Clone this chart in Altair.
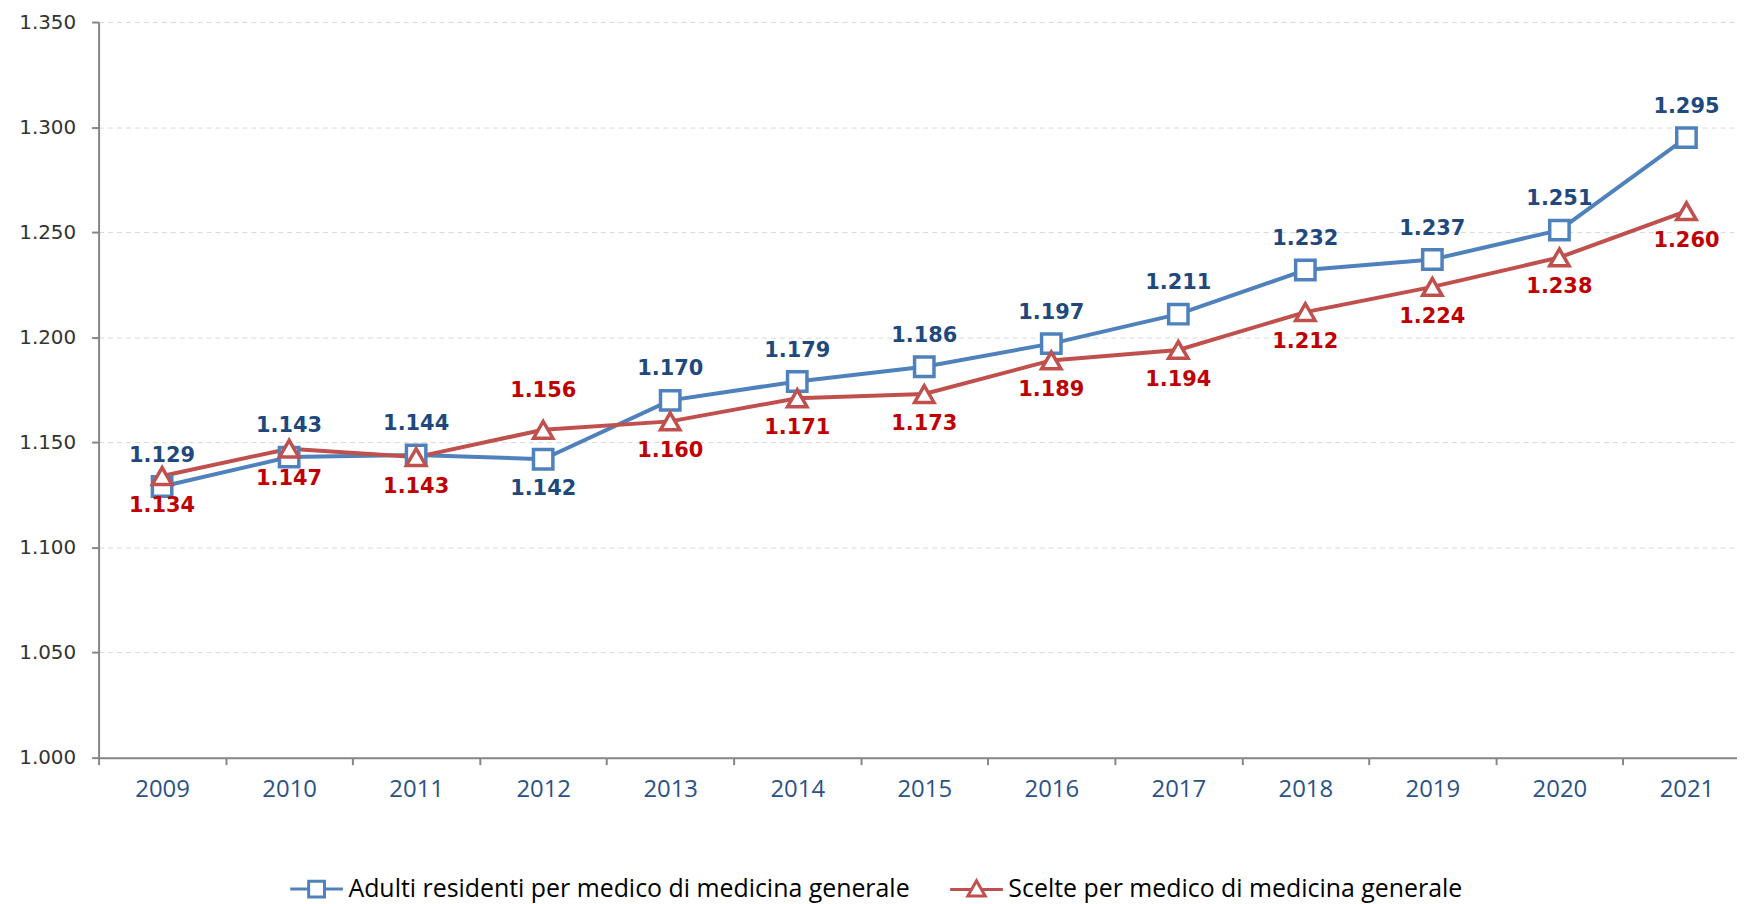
import altair as alt
import pandas as pd

# ---- data ----
anni = ["2009", "2010", "2011", "2012", "2013", "2014", "2015",
        "2016", "2017", "2018", "2019", "2020", "2021"]
adulti = [1129, 1143, 1144, 1142, 1170, 1179, 1186, 1197, 1211, 1232, 1237, 1251, 1295]
scelte = [1134, 1147, 1143, 1156, 1160, 1171, 1173, 1189, 1194, 1212, 1224, 1238, 1260]
y_ticks = [1000, 1050, 1100, 1150, 1200, 1250, 1300, 1350]
serie_nomi = ["Adulti residenti per medico di medicina generale",
              "Scelte per medico di medicina generale"]
adulti_label_sotto = ["2012"]   # years where the blue label sits below the marker
scelte_label_sopra = ["2012"]   # years where the red label sits above the marker

df = pd.DataFrame({
    "anno": anni + anni,
    "valore": adulti + scelte,
    "serie": [serie_nomi[0]] * len(anni) + [serie_nomi[1]] * len(anni),
})

BLUE = "#4F81BD"
RED = "#C0504D"
BLUE_TXT = "#1F497D"
RED_TXT = "#C00000"
AXIS_GREY = "#868686"
fmt_it = "replace(format(datum.valore, ','), ',', '.')"

x_enc = alt.X(
    "anno:O",
    title=None,
    scale=alt.Scale(type="band", range=[0, 1659], paddingInner=0, paddingOuter=0),
    axis=alt.Axis(
        labelAngle=0, labelFont="Open Sans", labelFontSize=24, labelColor="#2A5285",
        labelPadding=13, tickBand="extent", tickSize=7, tickWidth=2, tickColor=AXIS_GREY,
        domainColor=AXIS_GREY, domainWidth=2, grid=False,
    ),
)
y_enc = alt.Y(
    "valore:Q",
    title=None,
    scale=alt.Scale(domain=[1000, 1350], zero=False, nice=False),
    axis=alt.Axis(
        values=y_ticks, labelExpr="replace(format(datum.value, ','), ',', '.')",
        labelFont="DejaVu Sans", labelFontSize=20, labelColor="#333333", labelPadding=16,
        tickSize=7, tickWidth=2, tickColor=AXIS_GREY, domainColor=AXIS_GREY, domainWidth=2,
        grid=True, gridDash=[5, 4], gridColor="#d9d9d9", gridWidth=1,
    ),
)

base = alt.Chart(df).encode(x=x_enc, y=y_enc)

f_adulti = alt.datum.serie == serie_nomi[0]
f_scelte = alt.datum.serie == serie_nomi[1]

line_a = base.transform_filter(f_adulti).mark_line(color=BLUE, strokeWidth=4)
pts_a = base.transform_filter(f_adulti).mark_point(
    shape="square", size=380, fill="white", stroke=BLUE, strokeWidth=3.5, opacity=1, filled=True)
line_s = base.transform_filter(f_scelte).mark_line(color=RED, strokeWidth=4)
pts_s = base.transform_filter(f_scelte).mark_point(
    shape="triangle-up", size=380, fill="white", stroke=RED, strokeWidth=3.5, opacity=1, filled=True)

txt_kw = dict(font="DejaVu Sans", fontWeight="bold", fontSize=21, baseline="middle", align="center")

lab_a_up = base.transform_filter(f_adulti).transform_filter(
    ~alt.FieldOneOfPredicate(field="anno", oneOf=adulti_label_sotto)
).transform_calculate(lab=fmt_it).mark_text(color=BLUE_TXT, dy=-31, **txt_kw).encode(text="lab:N")
lab_a_dn = base.transform_filter(f_adulti).transform_filter(
    alt.FieldOneOfPredicate(field="anno", oneOf=adulti_label_sotto)
).transform_calculate(lab=fmt_it).mark_text(color=BLUE_TXT, dy=30, **txt_kw).encode(text="lab:N")
lab_s_dn = base.transform_filter(f_scelte).transform_filter(
    ~alt.FieldOneOfPredicate(field="anno", oneOf=scelte_label_sopra)
).transform_calculate(lab=fmt_it).mark_text(color=RED_TXT, dy=30, **txt_kw).encode(text="lab:N")
lab_s_up = base.transform_filter(f_scelte).transform_filter(
    alt.FieldOneOfPredicate(field="anno", oneOf=scelte_label_sopra)
).transform_calculate(lab=fmt_it).mark_text(color=RED_TXT, dy=-39, **txt_kw).encode(text="lab:N")

sym_sq = "M-1,0H-0.3M0.3,0H1M-0.3,-0.3H0.3V0.3H-0.3Z"
sym_tri = "M-1,0H-0.19M0.19,0H1M0,-0.33L-0.33,0.25H0.33Z"

legend_layer = base.transform_filter("false").mark_point(opacity=1, filled=False).encode(
    color=alt.Color("serie:N", scale=alt.Scale(domain=serie_nomi, range=[BLUE, RED]),
                    legend=alt.Legend(
                        title=None, orient="none", legendX=191, legendY=843,
                        direction="horizontal", symbolSize=2800, symbolStrokeWidth=3,
                        labelFont="Open Sans", labelFontSize=25, labelColor="#000000",
                        labelOffset=4, labelLimit=2000, columnPadding=33, padding=0,
                    )),
    shape=alt.Shape("serie:N", scale=alt.Scale(domain=serie_nomi, range=[sym_sq, sym_tri])),
)

chart = alt.layer(
    line_a, line_s, pts_a, pts_s, lab_a_up, lab_a_dn, lab_s_dn, lab_s_up, legend_layer
).properties(
    width=1646, height=739,
    autosize=alt.AutoSizeParams(type="none"),
    padding={"left": 91, "top": 12, "right": 0, "bottom": 160},
).configure_view(stroke=None)

chart.save("out.html", embed_options={"renderer": "svg", "actions": False})
